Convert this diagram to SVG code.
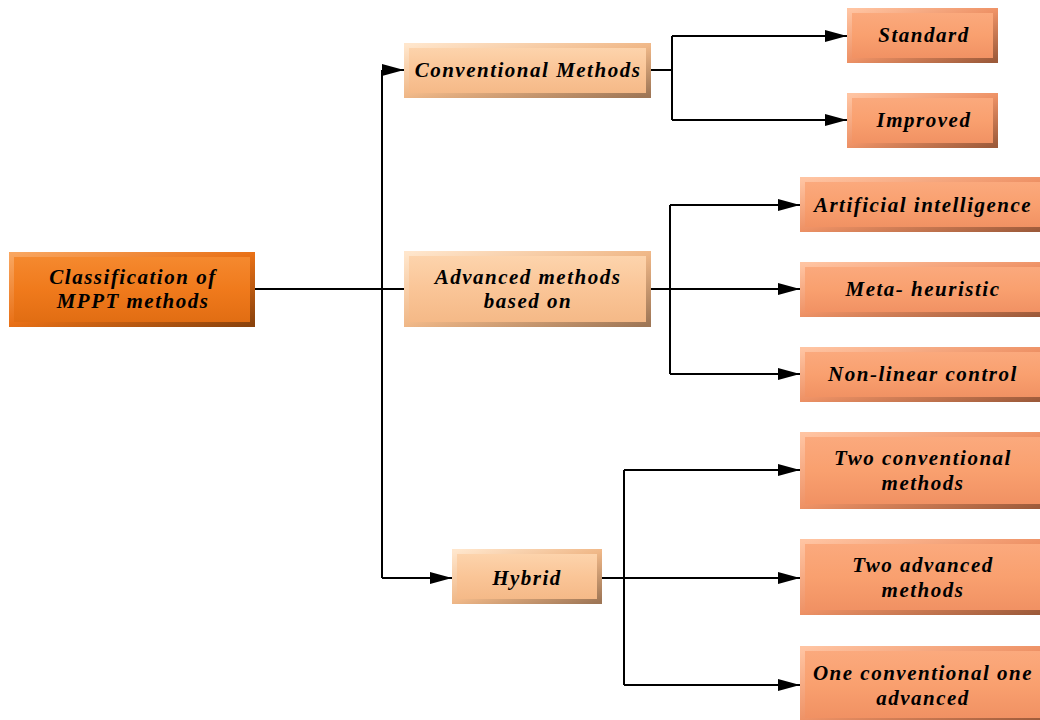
<svg xmlns="http://www.w3.org/2000/svg" width="1040" height="720" viewBox="0 0 1040 720">
<defs>
<linearGradient id="gRoot" x1="0" y1="0" x2="0" y2="1"><stop offset="0" stop-color="#F58A30"/><stop offset="0.5" stop-color="#F07A1C"/><stop offset="1" stop-color="#E06C12"/></linearGradient>
<linearGradient id="gMid" x1="0" y1="0" x2="0" y2="1"><stop offset="0" stop-color="#FDD5AE"/><stop offset="0.5" stop-color="#FAC597"/><stop offset="1" stop-color="#F4B886"/></linearGradient>
<linearGradient id="gLeaf" x1="0" y1="0" x2="0" y2="1"><stop offset="0" stop-color="#FBAA7E"/><stop offset="0.5" stop-color="#F9A06F"/><stop offset="1" stop-color="#F09062"/></linearGradient>
<linearGradient id="sRoot" x1="0" y1="0" x2="1" y2="1"><stop offset="0" stop-color="#F9A660"/><stop offset="0.5" stop-color="#E87016"/><stop offset="1" stop-color="#8A420C"/></linearGradient>
<linearGradient id="sMid" x1="0" y1="0" x2="1" y2="1"><stop offset="0" stop-color="#FFE6CC"/><stop offset="0.5" stop-color="#F0B888"/><stop offset="1" stop-color="#9E7656"/></linearGradient>
<linearGradient id="sLeaf" x1="0" y1="0" x2="1" y2="1"><stop offset="0" stop-color="#FFC4A2"/><stop offset="0.5" stop-color="#EE9266"/><stop offset="1" stop-color="#9C5A3A"/></linearGradient>
<marker id="arr" viewBox="0 0 22 12" refX="22" refY="6" markerWidth="22" markerHeight="12" markerUnits="userSpaceOnUse" orient="auto"><path d="M0,0 L22,6 L0,12 Z" fill="#000"/></marker>
</defs>
<style>
.root{fill:url(#gRoot);stroke:url(#sRoot);stroke-width:5}
.mid{fill:url(#gMid);stroke:url(#sMid);stroke-width:5}
.leaf{fill:url(#gLeaf);stroke:url(#sLeaf);stroke-width:5}
text{font-family:"Liberation Serif","Times New Roman",serif;font-weight:bold;font-style:italic;font-size:21px;fill:#000;text-anchor:middle;letter-spacing:1.5px}
.ln{fill:none;stroke:#000;stroke-width:2}
.la{fill:none;stroke:#000;stroke-width:2;marker-end:url(#arr)}
</style>
<rect width="1040" height="720" fill="#fff"/>
<g id="connectors">
<path class="ln" d="M254,289 H404"/>
<path class="ln" d="M382,70 V578"/>
<path class="la" d="M382,70 H404"/>
<path class="la" d="M382,578 H452"/>
<path class="ln" d="M650,70 H672 M672,36 V120"/>
<path class="la" d="M672,36 H847"/>
<path class="la" d="M672,120 H847"/>
<path class="ln" d="M670,205 V374"/>
<path class="la" d="M650,289 H800"/>
<path class="la" d="M670,205 H800"/>
<path class="la" d="M670,374 H800"/>
<path class="ln" d="M624,470 V685"/>
<path class="la" d="M601,578 H800"/>
<path class="la" d="M624,470 H800"/>
<path class="la" d="M624,685 H800"/>
</g>
<g id="n-root"><rect class="root" x="11.5" y="254.5" width="241" height="70"/><text x="133" y="284">Classification of</text><text x="133" y="308">MPPT methods</text></g>
<g id="n-conv"><rect class="mid" x="406.5" y="45.5" width="242" height="50"/><text x="528" y="77">Conventional Methods</text></g>
<g id="n-adv"><rect class="mid" x="406.5" y="253.5" width="242" height="71"/><text x="528" y="284">Advanced methods</text><text x="528" y="308">based on</text></g>
<g id="n-hybrid"><rect class="mid" x="454.5" y="551.5" width="145" height="50"/><text x="527" y="585">Hybrid</text></g>
<g id="n-standard"><rect class="leaf" x="849.5" y="10.5" width="146" height="50"/><text x="924" y="42">Standard</text></g>
<g id="n-improved"><rect class="leaf" x="849.5" y="95.5" width="146" height="50"/><text x="924" y="127">Improved</text></g>
<g id="n-ai"><rect class="leaf" x="802.5" y="179.5" width="240" height="50"/><text x="923" y="212">Artificial intelligence</text></g>
<g id="n-meta"><rect class="leaf" x="802.5" y="264.5" width="240" height="50"/><text x="923" y="296">Meta- heuristic</text></g>
<g id="n-nonlin"><rect class="leaf" x="802.5" y="349.5" width="240" height="50"/><text x="923" y="381">Non-linear control</text></g>
<g id="n-twoconv"><rect class="leaf" x="802.5" y="434.5" width="240" height="72"/><text x="923" y="465">Two conventional</text><text x="923" y="490">methods</text></g>
<g id="n-twoadv"><rect class="leaf" x="802.5" y="541.5" width="240" height="71"/><text x="923" y="572">Two advanced</text><text x="923" y="597">methods</text></g>
<g id="n-onecon"><rect class="leaf" x="802.5" y="648.5" width="240" height="72"/><text x="923" y="680">One conventional one</text><text x="923" y="705">advanced</text></g>
</svg>
